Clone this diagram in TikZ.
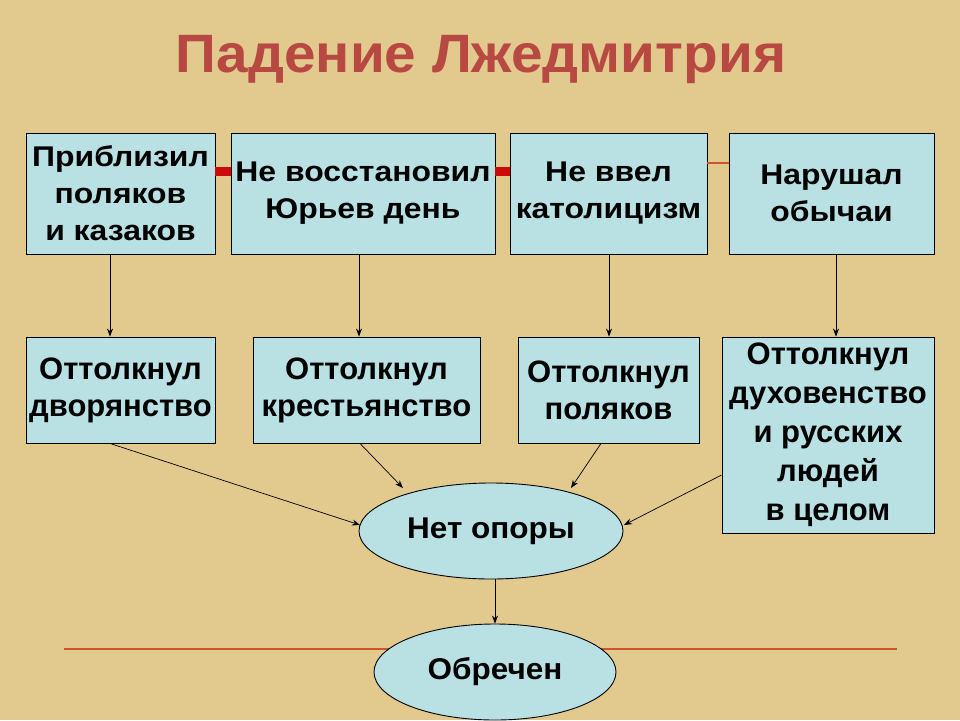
\documentclass[tikz,border=0pt]{standalone}
\usepackage{fontspec}
\setmainfont{Liberation Sans}
\newfontfamily\topf{Liberation Sans}[FakeStretch=1.12]
\newfontfamily\botf{Liberation Sans}
\newfontfamily\ellf{Liberation Sans}[FakeStretch=1.05]
\newfontfamily\titf{Liberation Sans}[FakeStretch=1.05]
\usetikzlibrary{arrows.meta,shapes.geometric}
\definecolor{parch}{RGB}{226,201,142}
\definecolor{boxfill}{RGB}{185,225,228}
\definecolor{titlered}{RGB}{184,72,66}
\definecolor{barred}{RGB}{204,10,10}
\definecolor{thinred}{RGB}{205,85,45}
\tikzset{
  box/.style={draw=black, line width=0.9pt, fill=boxfill, rectangle, inner sep=0pt, align=center},
  topbox/.style={box, font=\topf\bfseries\fontsize{28.5}{37}\selectfont},
  botbox/.style={box, font=\botf\bfseries\fontsize{31}{37}\selectfont},
  oval/.style={draw=black, line width=0.9pt, fill=boxfill, ellipse, inner sep=0pt, font=\ellf\bfseries\fontsize{30}{34}\selectfont},
  arr/.style={draw=black, line width=0.7pt, -{Stealth[length=8pt,width=6pt]}},
  redbar/.style={draw=barred, line width=9pt},
  redthin/.style={draw=thinred, line width=1.2pt}
}
\begin{document}
\begin{tikzpicture}[x=1pt,y=-1pt]
\fill[parch] (0,0) rectangle (960,720);
\useasboundingbox (0,0) rectangle (960,720);
\node[font=\titf\bfseries\fontsize{54}{60}\selectfont, text=titlered, anchor=base] (title) at (481,72) {Падение Лжедмитрия};
% top row
\node[topbox, minimum width=189pt, minimum height=121pt] (b1) at (120.5,193.5) {Приблизил\\поляков\\и казаков};
\node[topbox, minimum width=264pt, minimum height=121pt] (b2) at (363,193.5) {Не восстановил\\Юрьев день};
\node[topbox, minimum width=197pt, minimum height=121pt] (b3) at (608.5,193.5) {Не ввел\\католицизм};
\node[topbox, minimum width=205pt, minimum height=121pt] (b4) at (831.5,193.5) {Нарушал\\обычаи};
% red connectors
\draw[redbar] (b1.east |- 0,171) -- (b2.west |- 0,171);
\draw[redbar] (b2.east |- 0,171) -- (b3.west |- 0,171);
\draw[redthin] (b3.east |- 0,163) -- (b4.west |- 0,163);
% second row
\node[botbox, minimum width=189pt, minimum height=106pt] (b5) at (120.5,390) {Оттолкнул\\дворянство};
\node[botbox, minimum width=227pt, minimum height=106pt] (b6) at (366.5,390) {Оттолкнул\\крестьянство};
\node[botbox, minimum width=181pt, minimum height=106pt] (b7) at (608.5,390) {Оттолкнул\\поляков};
\node[botbox, minimum width=212pt, minimum height=196pt, font=\botf\bfseries\fontsize{31}{39}\selectfont] (b8) at (828,435) {Оттолкнул\\духовенство\\и русских\\людей\\в целом};
% red horizontal line behind bottom ellipse
\coordinate (rl) at (64,649);
\coordinate (rr) at (897,649);
\draw[redthin] (rl) -- (rr);
% ellipses
\node[oval, minimum width=264pt, minimum height=96pt] (e1) at (491,531) {Нет опоры};
\node[oval, minimum width=242pt, minimum height=96pt] (e2) at (495,672) {Обречен};
% vertical arrows
\draw[arr] ([xshift=-10.5pt]b1.south) -- ([xshift=-10.5pt]b5.north);
\draw[arr] ([xshift=-4pt]b2.south) -- ([xshift=-4pt]b2.south |- b6.north);
\draw[arr] ([xshift=0.5pt]b3.south) -- ([xshift=0.5pt]b7.north);
\draw[arr] ([xshift=4.5pt]b4.south) -- ([xshift=4.5pt]b4.south |- b8.north);
% converging arrows
\coordinate (t1) at (360,525);
\coordinate (t2) at (403,488);
\coordinate (t3) at (571,488);
\coordinate (t4) at (624,525);
\draw[arr] ([xshift=-10.5pt]b5.south) -- (t1);
\draw[arr] ([xshift=-6.5pt]b6.south) -- (t2);
\draw[arr] ([xshift=-7.5pt]b7.south) -- (t3);
\draw[arr] (b8.west |- 0,475) -- (t4);
\draw[arr] ([xshift=4pt]e1.south) -- ([xshift=0pt]e2.north);
\end{tikzpicture}
\end{document}
